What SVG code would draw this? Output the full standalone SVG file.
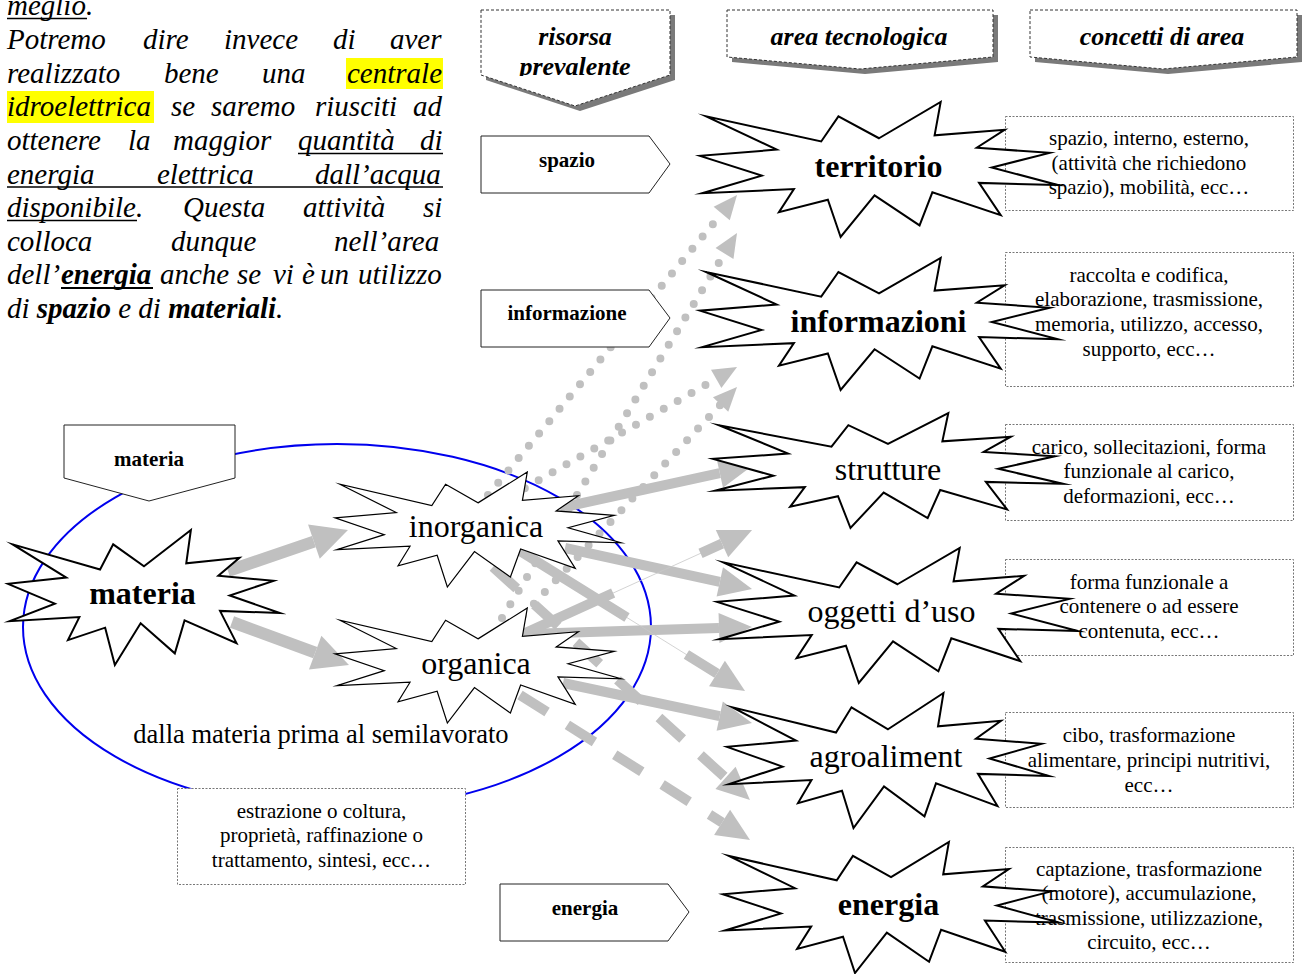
<svg xmlns="http://www.w3.org/2000/svg" width="1305" height="974" viewBox="0 0 1305 974">
<style>
  text { font-family: "Liberation Serif", "Times New Roman", serif; fill: #000; }
  .para { font-size: 29px; font-style: italic; }
  .b { font-weight: bold; }
  .ul { stroke: #000; stroke-width: 1.4; }
  .ulb { stroke: #000; stroke-width: 2.2; }
  .hl { fill: #ffff00; }
  .hdr { fill: #fff; stroke: #333; stroke-width: 1; stroke-dasharray: 3 2; }
  .shadow { fill: #7a7a7a; }
  .hdrtxt { font-size: 26px; font-weight: bold; font-style: italic; text-anchor: middle; }
  .res { fill: #fff; stroke: #222; stroke-width: 1; }
  .restxt { font-size: 21px; font-weight: bold; text-anchor: middle; }
  .note { fill: #fff; stroke: #777; stroke-width: 1; stroke-dasharray: 2 1.5; }
  .notetxt { font-size: 21px; text-anchor: middle; }
  .seal { fill: #fff; stroke: #000; stroke-width: 2; stroke-miterlimit: 10; }
  .thin { stroke-width: 1.2; }
  .lbl { font-size: 32px; text-anchor: middle; }
  .solid { fill: none; stroke: #c0c0c0; stroke-width: 10; }
  .big { stroke-width: 12; }
  .hair { fill: none; stroke: #c8c8c8; stroke-width: 0.8; }
  .dash { fill: none; stroke: #c0c0c0; stroke-width: 10; stroke-dasharray: 32 24; }
  .dots { fill: none; stroke: #c0c0c0; stroke-width: 8; stroke-linecap: round; stroke-dasharray: 0 16; }
</style>
<defs>
  <!-- irregular explosion outline, 216 x 216 units -->
  <path id="seal" vector-effect="non-scaling-stroke" d="M108,58 L145.22,0 L141.55,53.25 L183.8,44.57 L167.02,73.15 L210.97,81.37 L176.07,104.75 L216,132.9 L168.37,129.42 L181.45,180.95 L140.2,144.57 L132.47,197.37 L105.32,149.35 L84.85,216 L77.15,156.27 L47.62,176.17 L56.67,139.37 L1.35,145.87 L37.22,117.75 L0,86.15 L46.27,76.17 L3.7,22.95 L73.12,63.2 L83.52,22.95 Z"/>
  <marker id="headBig" markerUnits="userSpaceOnUse" orient="auto" refX="0" refY="0" markerWidth="40" markerHeight="40" viewBox="0 -20 40 40" overflow="visible">
    <path d="M0,-18 L36,0 L0,18 Z" fill="#c0c0c0"/>
  </marker>
  <marker id="head" markerUnits="userSpaceOnUse" orient="auto" refX="0" refY="0" markerWidth="36" markerHeight="32" viewBox="0 -16 36 32" overflow="visible">
    <path d="M0,-15 L33,0 L0,15 Z" fill="#c0c0c0"/>
  </marker>
  <marker id="headDot" markerUnits="userSpaceOnUse" orient="auto" refX="0" refY="0" markerWidth="26" markerHeight="24" viewBox="0 -12 26 24" overflow="visible">
    <path d="M0,-10.5 L24,0 L0,10.5 Z" fill="#c0c0c0"/>
  </marker>
  <clipPath id="clipH1"><rect x="481" y="10" width="189" height="66"/></clipPath>
</defs>

<!-- paragraph -->
<g id="paragraph" class="para">
  <rect class="hl" x="346" y="58" width="97" height="31"/>
  <rect class="hl" x="7" y="91" width="147" height="32"/>
  <text x="7" y="15">meglio.</text>
  <line class="ul" x1="7" y1="18.5" x2="87" y2="18.5"/>
  <text y="49"><tspan x="7">Potremo</tspan><tspan x="143">dire</tspan><tspan x="224">invece</tspan><tspan x="333">di</tspan><tspan x="390">aver</tspan></text>
  <text y="82.5"><tspan x="7">realizzato</tspan><tspan x="164">bene</tspan><tspan x="262">una</tspan><tspan x="347">centrale</tspan></text>
  <text y="116"><tspan x="7">idroelettrica</tspan><tspan x="171">se</tspan><tspan x="211">saremo</tspan><tspan x="315">riusciti</tspan><tspan x="413">ad</tspan></text>
  <text y="150"><tspan x="7">ottenere</tspan><tspan x="128">la</tspan><tspan x="173">maggior</tspan><tspan x="298">quantità</tspan><tspan x="420">di</tspan></text>
  <line class="ul" x1="298" y1="153.5" x2="443" y2="153.5"/>
  <text y="183.5"><tspan x="7">energia</tspan><tspan x="157">elettrica</tspan><tspan x="315">dall’acqua</tspan></text>
  <line class="ul" x1="7" y1="187" x2="443" y2="187"/>
  <text y="217"><tspan x="7">disponibile.</tspan><tspan x="183">Questa</tspan><tspan x="303">attività</tspan><tspan x="423">si</tspan></text>
  <line class="ul" x1="7" y1="220.5" x2="137" y2="220.5"/>
  <text y="250.5"><tspan x="7">colloca</tspan><tspan x="171">dunque</tspan><tspan x="334">nell’area</tspan></text>
  <text y="284"><tspan x="7">dell’</tspan><tspan x="61" class="b">energia</tspan><tspan x="160">anche</tspan><tspan x="237">se</tspan><tspan x="273">vi</tspan><tspan x="302">è</tspan><tspan x="320">un</tspan><tspan x="358">utilizzo</tspan></text>
  <line class="ulb" x1="61" y1="288" x2="153" y2="288"/>
  <text x="7" y="318">di <tspan class="b">spazio</tspan> e di <tspan class="b">materiali</tspan>.</text>
</g>

<!-- column headers -->
<g id="hdr-risorsa">
  <polygon class="shadow" points="486,15 675,15 675,80 580,111 486,80"/>
  <polygon class="hdr" points="481,10 670,10 670,75 575,106 481,75"/>
  <g clip-path="url(#clipH1)">
    <text class="hdrtxt" x="575" y="45">risorsa</text>
    <text class="hdrtxt" x="575" y="75">prevalente</text>
  </g>
</g>
<g id="hdr-area">
  <polygon class="shadow" points="732,15 998,15 998,62 865,74 732,62"/>
  <polygon class="hdr" points="727,10 993,10 993,57 860,69 727,57"/>
  <text class="hdrtxt" x="859" y="45">area tecnologica</text>
</g>
<g id="hdr-concetti">
  <polygon class="shadow" points="1035,15 1302,15 1302,62 1168,74 1035,62"/>
  <polygon class="hdr" points="1030,10 1297,10 1297,57 1163,69 1030,57"/>
  <text class="hdrtxt" x="1162" y="45">concetti di area</text>
</g>

<!-- semi-finished materials region -->
<g id="materia-region">
  <ellipse cx="337" cy="627" rx="314" ry="183" fill="none" stroke="#0000ee" stroke-width="2"/>
  <text x="321" y="743" font-size="26.5" text-anchor="middle">dalla materia prima al semilavorato</text>
</g>
<g id="res-materia">
  <polygon class="res" points="64,425 235,425 235,478 149,501 64,478"/>
  <text class="restxt" x="149" y="466">materia</text>
</g>

<!-- concept notes -->
<g id="note-materia">
  <rect class="note" x="177.5" y="788.5" width="288" height="96"/>
  <text class="notetxt" x="321.5" y="817.5">estrazione o coltura,</text>
  <text class="notetxt" x="321.5" y="841.5">proprietà, raffinazione o</text>
  <text class="notetxt" x="321.5" y="866.5">trattamento, sintesi, ecc…</text>
</g>
<g id="note-territorio">
  <rect class="note" x="1005.5" y="116.5" width="288" height="94"/>
  <text class="notetxt" x="1149" y="145">spazio, interno, esterno,</text>
  <text class="notetxt" x="1149" y="169.5">(attività che richiedono</text>
  <text class="notetxt" x="1149" y="194">spazio), mobilità, ecc…</text>
</g>
<g id="note-informazioni">
  <rect class="note" x="1005.5" y="252.5" width="288" height="134"/>
  <text class="notetxt" x="1149" y="281.5">raccolta e codifica,</text>
  <text class="notetxt" x="1149" y="305.5">elaborazione, trasmissione,</text>
  <text class="notetxt" x="1149" y="330.5">memoria, utilizzo, accesso,</text>
  <text class="notetxt" x="1149" y="355.5">supporto, ecc…</text>
</g>
<g id="note-strutture">
  <rect class="note" x="1005.5" y="424.5" width="288" height="96"/>
  <text class="notetxt" x="1149" y="453.5">carico, sollecitazioni, forma</text>
  <text class="notetxt" x="1149" y="478">funzionale al carico,</text>
  <text class="notetxt" x="1149" y="503">deformazioni, ecc…</text>
</g>
<g id="note-oggetti">
  <rect class="note" x="1005.5" y="559.5" width="288" height="96"/>
  <text class="notetxt" x="1149" y="588.5">forma funzionale a</text>
  <text class="notetxt" x="1149" y="612.5">contenere o ad essere</text>
  <text class="notetxt" x="1149" y="637.5">contenuta, ecc…</text>
</g>
<g id="note-agroaliment">
  <rect class="note" x="1005.5" y="712.5" width="288" height="95"/>
  <text class="notetxt" x="1149" y="741.5">cibo, trasformazione</text>
  <text class="notetxt" x="1149" y="766.5">alimentare, principi nutritivi,</text>
  <text class="notetxt" x="1149" y="791.5">ecc…</text>
</g>
<g id="note-energia">
  <rect class="note" x="1005.5" y="847.5" width="288" height="115"/>
  <text class="notetxt" x="1149" y="875.5">captazione, trasformazione</text>
  <text class="notetxt" x="1149" y="900">(motore), accumulazione,</text>
  <text class="notetxt" x="1149" y="924.5">trasmissione, utilizzazione,</text>
  <text class="notetxt" x="1149" y="948.5">circuito, ecc…</text>
</g>

<!-- connectors -->
<g id="connectors">
  <!-- dotted: towards territorio / informazioni -->
  <path class="dots" d="M488,495 L721.7,213.5" marker-end="url(#headDot)"/>
  <path class="dots" d="M502,618 L724.5,253.5" marker-end="url(#headDot)"/>
  <path class="dots" d="M497,504 L716.2,378.9" marker-end="url(#headDot)"/>
  <path class="dots" d="M512,627 L720.6,404.5" marker-end="url(#headDot)"/>
  <!-- solid -->
  <path class="solid big" d="M228,571 L313.9,541.6" marker-end="url(#headBig)"/>
  <path class="solid big" d="M232,622 L315.2,652.6" marker-end="url(#headBig)"/>
  <path class="solid" d="M560,508 L719.8,473.1" marker-end="url(#head)"/>
  <path class="solid" d="M565,548 L719.8,581.9" marker-end="url(#head)"/>
  <path class="solid" d="M525,634 L719,628" marker-end="url(#head)"/>
  <path class="solid" d="M563,683 L719.7,716.2" marker-end="url(#head)"/>
  <!-- long dash -->
  <path class="hair" d="M523,634 L722,543.6"/>
  <path class="solid" stroke-dasharray="99 96 300" d="M523,634 L722,543.6" marker-end="url(#head)"/>
  <path class="hair" d="M520,551 L717,673.6"/>
  <path class="solid" stroke-dasharray="126 70 300" d="M520,551 L717,673.6" marker-end="url(#head)"/>
  <!-- medium dash -->
  <path class="dash" d="M520,695 L722.1,822.4" marker-end="url(#head)"/>
  <path class="dash" d="M493,567 L725.5,777.8" marker-end="url(#head)"/>
</g>

<!-- resource tags -->
<g id="res-spazio">
  <polygon class="res" points="481,136 649,136 670,164 649,193 481,193"/>
  <text class="restxt" x="567" y="167">spazio</text>
</g>
<g id="res-informazione">
  <polygon class="res" points="481,290 649,290 670,318 649,347 481,347"/>
  <text class="restxt" x="567" y="320">informazione</text>
</g>
<g id="res-energia">
  <polygon class="res" points="500,884 668,884 689,912 668,941 500,941"/>
  <text class="restxt" x="585" y="915">energia</text>
</g>

<!-- explosion nodes -->
<g id="node-materia">
  <use href="#seal" class="seal" transform="translate(8,530) scale(1.2593,0.625)"/>
  <text class="lbl b" x="142.5" y="604">materia</text>
</g>
<g id="node-inorganica">
  <use href="#seal" class="seal thin" transform="translate(335,472) scale(1.3241,0.5324)"/>
  <text class="lbl" x="476" y="537">inorganica</text>
</g>
<g id="node-organica">
  <use href="#seal" class="seal thin" transform="translate(335,608) scale(1.3241,0.5324)"/>
  <text class="lbl" x="476" y="674">organica</text>
</g>
<g id="node-territorio">
  <use href="#seal" class="seal" transform="translate(700,102) scale(1.6574,0.625)"/>
  <text class="lbl b" x="878.5" y="177">territorio</text>
</g>
<g id="node-informazioni">
  <use href="#seal" class="seal" transform="translate(700,258) scale(1.6574,0.6111)"/>
  <text class="lbl b" x="878.5" y="332">informazioni</text>
</g>
<g id="node-strutture">
  <use href="#seal" class="seal" transform="translate(713,413) scale(1.6204,0.5324)"/>
  <text class="lbl" x="888" y="480">strutture</text>
</g>
<g id="node-oggetti">
  <use href="#seal" class="seal" transform="translate(717,548) scale(1.6713,0.625)"/>
  <text class="lbl" x="891.5" y="622">oggetti d’uso</text>
</g>
<g id="node-agroaliment">
  <use href="#seal" class="seal" transform="translate(727,693) scale(1.4907,0.625)"/>
  <text class="lbl" x="886" y="767">agroaliment</text>
</g>
<g id="node-energia">
  <use href="#seal" class="seal" transform="translate(723,842) scale(1.5556,0.6065)"/>
  <text class="lbl b" x="888.5" y="915">energia</text>
</g>
</svg>
